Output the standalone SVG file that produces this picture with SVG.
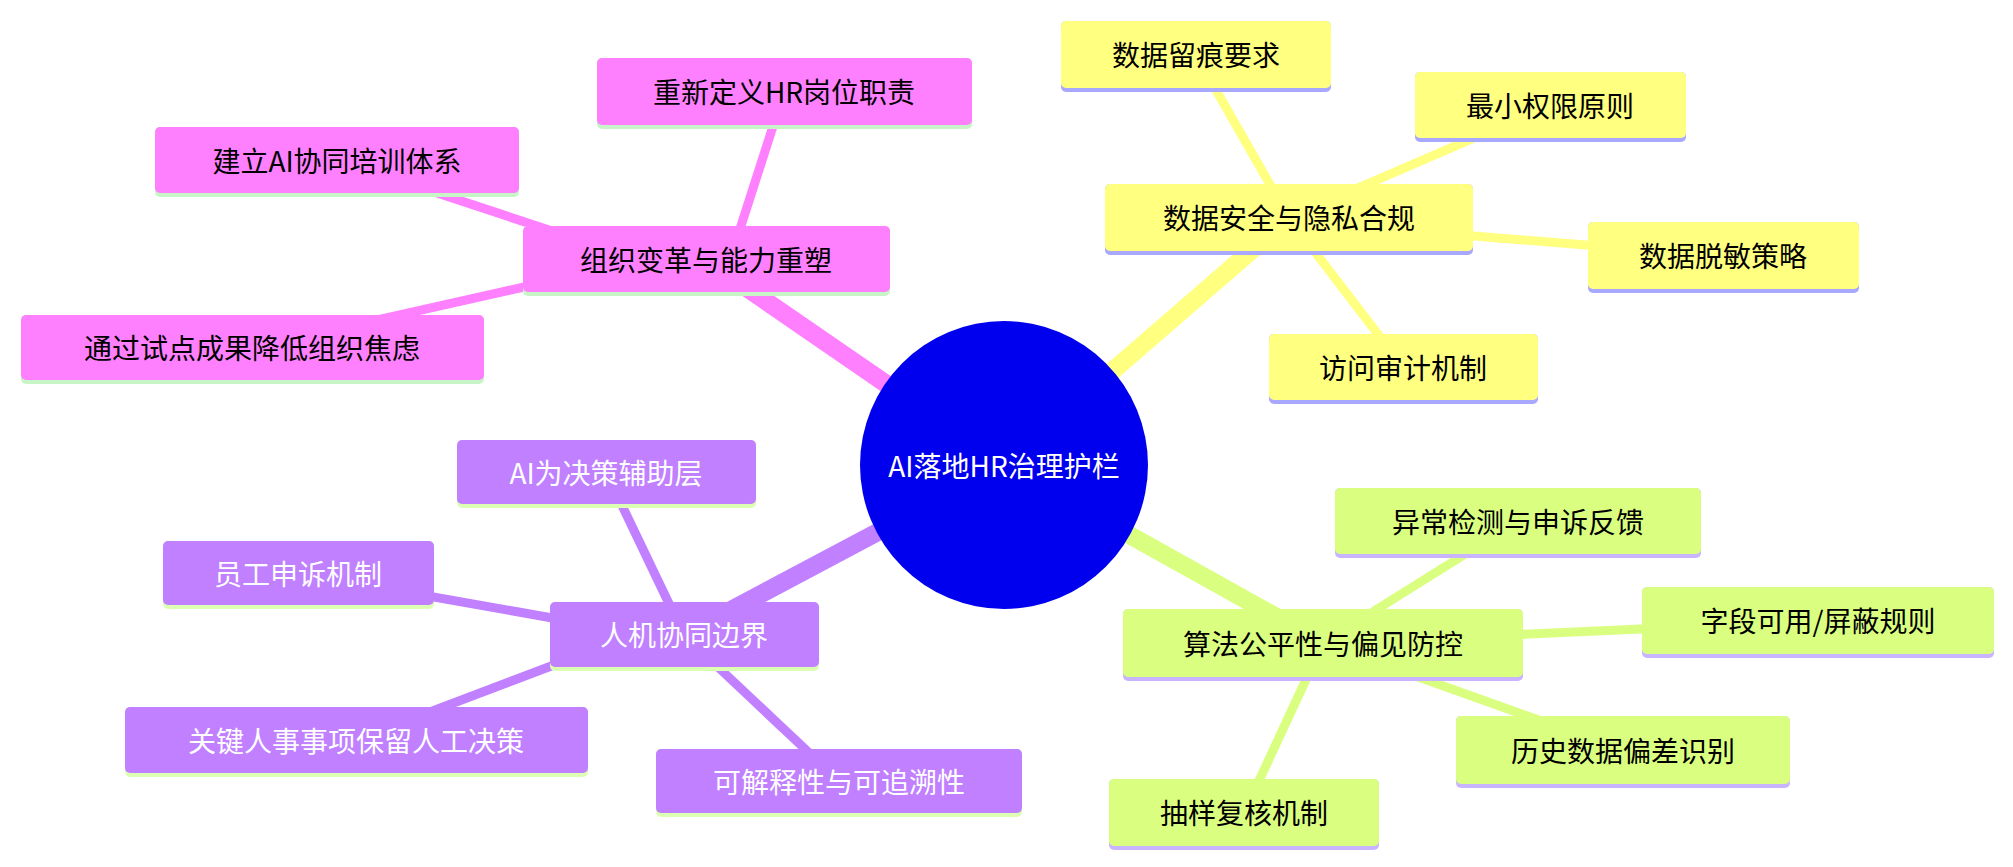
<svg xmlns="http://www.w3.org/2000/svg" width="2013" height="867" viewBox="0 0 2013 867">
<style>
text{font-family:"Noto Sans CJK SC","Noto Sans",sans-serif;font-size:28px;text-anchor:middle;dominant-baseline:central}
.p{fill:#ff80ff}.y{fill:#ffff80}.g{fill:#daff80}.v{fill:#c080ff}
.pu{fill:#c8f5c8}.yu{fill:#a8a8ff}.gu{fill:#c8b4ff}.vu{fill:#dcffb4}
.lp{stroke:#ff80ff}.ly{stroke:#ffff80}.lg{stroke:#daff80}.lv{stroke:#c080ff}
.w{fill:#fff}
</style>
<rect width="2013" height="867" fill="#fff"/>
<g id="connectors" stroke-linecap="butt" fill="none">
<line class="lp" x1="1004" y1="465" x2="706" y2="260" stroke-width="18"/>
<line class="ly" x1="1004" y1="465" x2="1289" y2="218" stroke-width="18"/>
<line class="lg" x1="1004" y1="465" x2="1323" y2="643" stroke-width="18"/>
<line class="lv" x1="1004" y1="465" x2="684" y2="635" stroke-width="18"/>
<line class="lp" x1="730" y1="260" x2="784" y2="92" stroke-width="9"/>
<line class="lp" x1="640" y1="260" x2="337" y2="160" stroke-width="9"/>
<line class="lp" x1="600" y1="270" x2="252" y2="348" stroke-width="9"/>
<line class="ly" x1="1289" y1="218" x2="1196" y2="55" stroke-width="9"/>
<line class="ly" x1="1289" y1="218" x2="1550" y2="105" stroke-width="9"/>
<line class="ly" x1="1400" y1="230" x2="1723" y2="256" stroke-width="9"/>
<line class="ly" x1="1289" y1="218" x2="1403" y2="367" stroke-width="9"/>
<line class="lg" x1="1323" y1="643" x2="1518" y2="521" stroke-width="9"/>
<line class="lg" x1="1400" y1="640" x2="1818" y2="621" stroke-width="9"/>
<line class="lg" x1="1323" y1="643" x2="1623" y2="750" stroke-width="9"/>
<line class="lg" x1="1323" y1="643" x2="1244" y2="813" stroke-width="9"/>
<line class="lv" x1="684" y1="635" x2="606" y2="472" stroke-width="9"/>
<line class="lv" x1="620" y1="630" x2="298" y2="573" stroke-width="9"/>
<line class="lv" x1="620" y1="640" x2="356" y2="740" stroke-width="9"/>
<line class="lv" x1="684" y1="635" x2="839" y2="781" stroke-width="9"/>
</g>
<g id="center"><circle cx="1004" cy="465" r="144" fill="#0000ee"/><text x="1004" y="465" class="w">AI落地HR治理护栏</text></g>
<g id="n1"><rect class="pu" x="523" y="226" width="367" height="70" rx="5"/><rect class="p" x="523" y="226" width="367" height="66" rx="5"/><text x="706" y="259">组织变革与能力重塑</text></g>
<g id="n1a"><rect class="pu" x="597" y="58" width="375" height="71" rx="5"/><rect class="p" x="597" y="58" width="375" height="67" rx="5"/><text x="784" y="91">重新定义HR岗位职责</text></g>
<g id="n1b"><rect class="pu" x="155" y="127" width="364" height="70" rx="5"/><rect class="p" x="155" y="127" width="364" height="66" rx="5"/><text x="337" y="160">建立AI协同培训体系</text></g>
<g id="n1c"><rect class="pu" x="21" y="315" width="463" height="69" rx="5"/><rect class="p" x="21" y="315" width="463" height="65" rx="5"/><text x="252" y="347">通过试点成果降低组织焦虑</text></g>
<g id="n2"><rect class="yu" x="1105" y="184" width="368" height="71" rx="5"/><rect class="y" x="1105" y="184" width="368" height="67" rx="5"/><text x="1289" y="217">数据安全与隐私合规</text></g>
<g id="n2a"><rect class="yu" x="1061" y="21" width="270" height="71" rx="5"/><rect class="y" x="1061" y="21" width="270" height="67" rx="5"/><text x="1196" y="54">数据留痕要求</text></g>
<g id="n2b"><rect class="yu" x="1415" y="72" width="271" height="70" rx="5"/><rect class="y" x="1415" y="72" width="271" height="66" rx="5"/><text x="1550" y="105">最小权限原则</text></g>
<g id="n2c"><rect class="yu" x="1588" y="222" width="271" height="71" rx="5"/><rect class="y" x="1588" y="222" width="271" height="67" rx="5"/><text x="1723" y="255">数据脱敏策略</text></g>
<g id="n2d"><rect class="yu" x="1269" y="334" width="269" height="70" rx="5"/><rect class="y" x="1269" y="334" width="269" height="66" rx="5"/><text x="1403" y="367">访问审计机制</text></g>
<g id="n3"><rect class="gu" x="1123" y="609" width="400" height="72" rx="5"/><rect class="g" x="1123" y="609" width="400" height="68" rx="5"/><text x="1323" y="643">算法公平性与偏见防控</text></g>
<g id="n3a"><rect class="gu" x="1335" y="488" width="366" height="70" rx="5"/><rect class="g" x="1335" y="488" width="366" height="66" rx="5"/><text x="1518" y="521">异常检测与申诉反馈</text></g>
<g id="n3b"><rect class="gu" x="1642" y="587" width="352" height="71" rx="5"/><rect class="g" x="1642" y="587" width="352" height="67" rx="5"/><text x="1818" y="620">字段可用/屏蔽规则</text></g>
<g id="n3c"><rect class="gu" x="1456" y="716" width="334" height="72" rx="5"/><rect class="g" x="1456" y="716" width="334" height="68" rx="5"/><text x="1623" y="750">历史数据偏差识别</text></g>
<g id="n3d"><rect class="gu" x="1109" y="779" width="270" height="71" rx="5"/><rect class="g" x="1109" y="779" width="270" height="67" rx="5"/><text x="1244" y="812">抽样复核机制</text></g>
<g id="n4"><rect class="vu" x="550" y="602" width="269" height="69" rx="5"/><rect class="v" x="550" y="602" width="269" height="65" rx="5"/><text x="684" y="634" class="w">人机协同边界</text></g>
<g id="n4a"><rect class="vu" x="457" y="440" width="299" height="68" rx="5"/><rect class="v" x="457" y="440" width="299" height="64" rx="5"/><text x="606" y="472" class="w">AI为决策辅助层</text></g>
<g id="n4b"><rect class="vu" x="163" y="541" width="271" height="68" rx="5"/><rect class="v" x="163" y="541" width="271" height="64" rx="5"/><text x="298" y="573" class="w">员工申诉机制</text></g>
<g id="n4c"><rect class="vu" x="125" y="707" width="463" height="70" rx="5"/><rect class="v" x="125" y="707" width="463" height="66" rx="5"/><text x="356" y="740" class="w">关键人事事项保留人工决策</text></g>
<g id="n4d"><rect class="vu" x="656" y="749" width="366" height="68" rx="5"/><rect class="v" x="656" y="749" width="366" height="64" rx="5"/><text x="839" y="781" class="w">可解释性与可追溯性</text></g>
</svg>
